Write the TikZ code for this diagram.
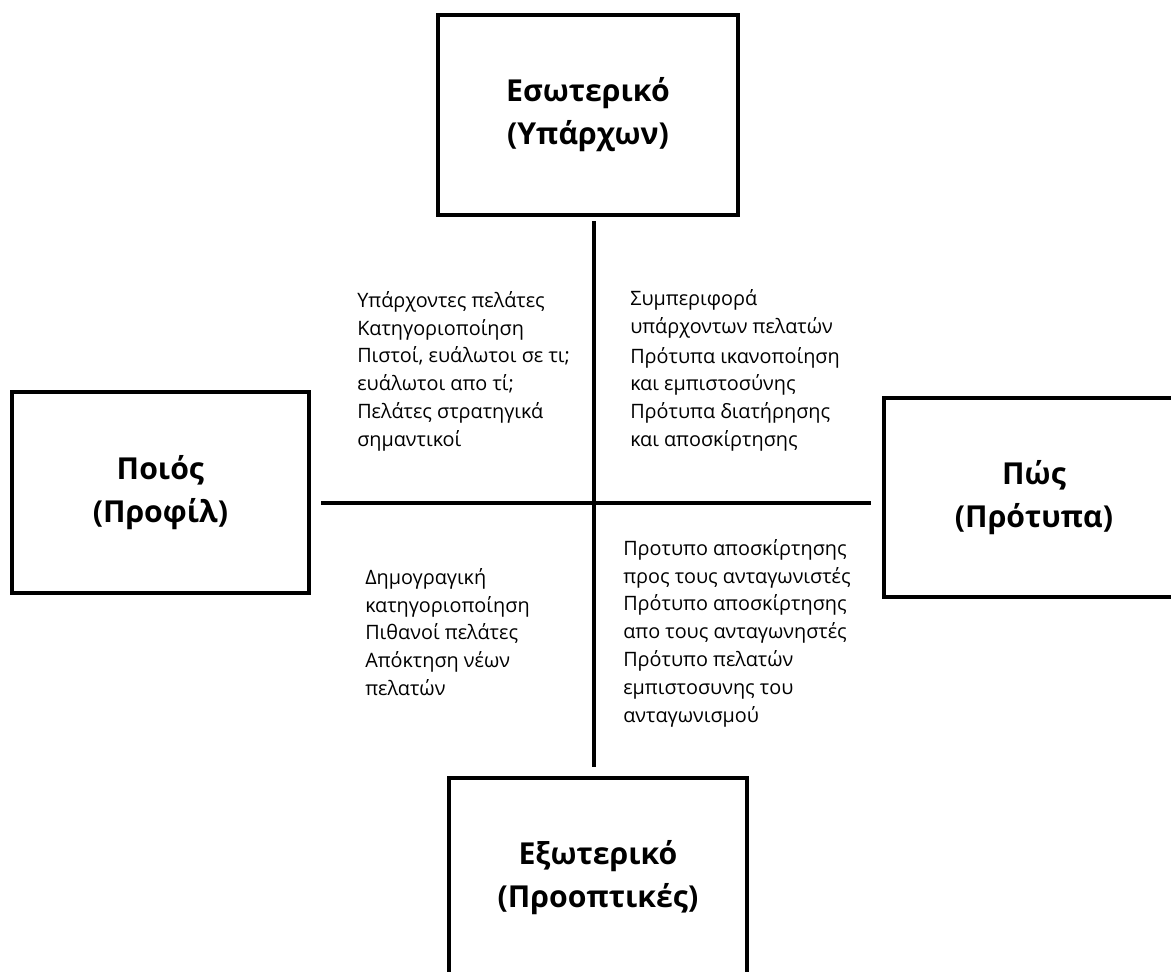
\documentclass[tikz,border=0pt]{standalone}
\usepackage{fontspec}
\setmainfont{Open Sans}
\usetikzlibrary{positioning,calc}

\begin{document}
\begin{tikzpicture}[
  quad/.style={draw, line width=3.2pt, minimum width=7.5cm, minimum height=5cm, align=center,
    font=\bfseries\fontsize{21.5}{30.5}\selectfont},
  notes/.style={anchor=north west, inner sep=0pt, align=left, font=\fontsize{14.1}{19.8}\selectfont},
  axis/.style={line width=3.2pt}
]
  \clip (0,0) rectangle (29.275,24.275);

  % the four boxes
  \node[quad] (inner) at (14.7,21.4) {Εσωτερικό\\(Υπάρχων)};
  \node[quad, minimum width=7.43cm, minimum height=5.03cm] (who) at (4.01,11.96) {Ποιός\\(Προφίλ)};
  \node[quad, minimum height=4.98cm] (how) at (25.85,11.84) {Πώς\\(Πρότυπα)};
  \node[quad, minimum width=7.45cm] (outer) at (14.95,2.33) {Εξωτερικό\\(Προοπτικές)};

  \coordinate (mid) at (14.85,11.7);

  % cross
  \draw[axis, shorten <=0.1cm] (mid |- inner.south) -- (mid);
  \draw[axis, shorten >=0.22cm] (mid) -- (mid |- outer.north);
  \draw[axis, shorten <=0.25cm, shorten >=0.28cm] (who.east |- mid) -- (how.west |- mid);

  % quadrant texts
  \node[notes] (existing) at (8.925,17.0) {Υπάρχοντες πελάτες\\Κατηγοριοποίηση\\Πιστοί, ευάλωτοι σε τι;\\ευάλωτοι απο τί;\\Πελάτες στρατηγικά\\σημαντικοί};
  \node[notes] (behaviour) at (15.75,17.05) {Συμπεριφορά\\υπάρχοντων πελατών\\[1.5pt]Πρότυπα ικανοποίηση\\και εμπιστοσύνης\\Πρότυπα διατήρησης\\και αποσκίρτησης};
  \node[notes] (demo) at (9.125,10.075) {Δημογραγική\\κατηγοριοποίηση\\Πιθανοί πελάτες\\Απόκτηση νέων\\πελατών};
  \node[notes] (rivals) at (15.575,10.8) {Προτυπο αποσκίρτησης\\προς τους ανταγωνιστές\\Πρότυπο αποσκίρτησης\\απο τους ανταγωνηστές\\Πρότυπο πελατών\\εμπιστοσυνης του\\ανταγωνισμού};
\end{tikzpicture}
\end{document}
